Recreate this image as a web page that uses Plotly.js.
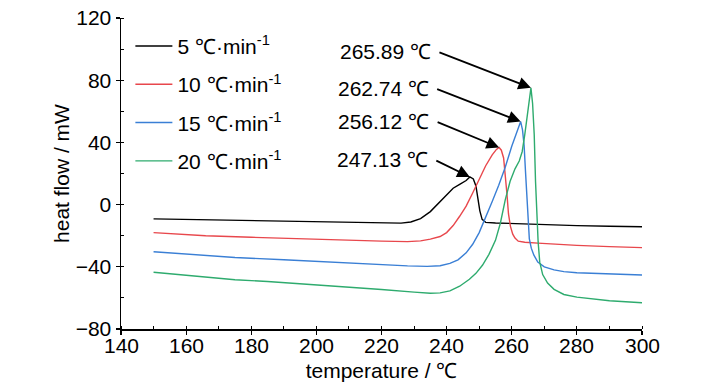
<!DOCTYPE html>
<html>
<head>
<meta charset="utf-8">
<script src="https://cdn.plot.ly/plotly-3.0.1.min.js"></script>
<style>html,body{margin:0;padding:0;background:#fff;}#chart{width:728px;height:390px;}</style>
</head>
<body>
<div id="chart"></div>
<script>
// ---- data ----
const seriesNames = ['5 ℃·min<sup>-1</sup>', '10 ℃·min<sup>-1</sup>', '15 ℃·min<sup>-1</sup>', '20 ℃·min<sup>-1</sup>'];
const seriesColors = ['#000000', '#e8474c', '#3a7fd5', '#2eab6e'];

const xTicks = [140,160,180,200,220,240,260,280,300];
const xTickLabels = ['140','160','180','200','220','240','260','280','300'];
const yTicks = [-80,-40,0,40,80,120];

const x5 = [150,160,170,180,190,200,210,220,226,229,232,235,238,240,242,244,246,247.13,248.2,249,249.6,250.2,250.9,252,255,260,270,280,290,300];
const y5 = [-9.2,-9.6,-10,-10.3,-10.7,-11.1,-11.5,-11.8,-11.9,-11.2,-9,-4.5,2,6.5,10.5,13,15.5,17.8,16.5,12,4,-4,-9.5,-11.4,-11.8,-12.2,-12.9,-13.5,-13.9,-14.2];

const x10 = [150,160,166,180,190,200,210,220,228,232,235,238,240,242,244,246,248,250,252,254,255.3,256.12,256.8,257.5,258,258.5,259,259.6,260.3,261,262,264,268,275,280,290,300];
const y10 = [-18,-19.3,-20,-21,-21.7,-22.3,-22.9,-23.5,-23.8,-23.3,-22.2,-20.5,-18,-13.5,-7.5,-1,7.5,16,25,32,35.5,36.7,35,30,20,7.5,-6,-14,-19,-21.5,-23.5,-24.2,-24.8,-25.7,-26.2,-27,-27.7];

const x15 = [150,160,170,175,190,200,210,220,228,234,238,241,243.5,246,248,250,252,254,256,258,260,261.5,262.74,263.3,263.8,264.2,264.6,265,265.4,266,266.8,268,270,273,276,280,290,300];
const y15 = [-30.3,-31.8,-33.3,-34,-35.5,-36.6,-37.7,-38.8,-39.4,-39.7,-39.3,-37.8,-35.5,-31,-25.5,-18,-8.5,2,12.5,24,37.5,46,53.4,48,38,22,7.5,-10,-22,-28,-32.5,-37,-40,-42,-43.1,-43.8,-44.6,-45.3];

const x20 = [150,160,170,175,185,200,210,220,230,235,238,241,244,247,249,251,253,255,256.5,258,259.5,261,262.3,263.2,264,265,265.89,266.4,266.9,267.3,267.7,268.1,268.6,269.5,271,273,276,280,290,300];
const y20 = [-43.5,-45.5,-47.4,-48.3,-49.5,-51.5,-53,-54.6,-56.3,-57,-56.8,-55.5,-52.5,-48,-44.2,-39,-32,-23,-12,3,15,23,28,34,45,62,75.1,65,45,15,-8,-24,-37,-45,-50.5,-54.5,-57.8,-59.5,-61.8,-63.1];

const xs = [x5, x10, x15, x20];
const ys = [y5, y10, y15, y20];

// peak annotations
const peakX = [265.89, 262.74, 256.12, 247.13];
const peakY = [75.1, 53.4, 36.7, 17.8];
const peakLabels = ['265.89 ℃', '262.74 ℃', '256.12 ℃', '247.13 ℃'];
// arrow tail offsets (px) relative to the peak
const tailDX = [-93, -85, -63, -35];
const tailDY = [-36, -33, -26, -17];

const FONT = '"Liberation Sans", Arial, sans-serif';

const traces = xs.map((xv, i) => ({
  x: xv, y: ys[i], type: 'scatter', mode: 'lines',
  name: seriesNames[i], legendgroup: 'g' + i,
  line: {color: seriesColors[i], width: 1.4}
}));

const annotations = [];
peakX.forEach((px, i) => {
  annotations.push({
    x: px, y: peakY[i], xref: 'x', yref: 'y', text: ' ',
    showarrow: true, ax: tailDX[i], ay: tailDY[i], axref: 'pixel', ayref: 'pixel',
    arrowhead: 2, arrowsize: 1.4, arrowwidth: 1.8, arrowcolor: '#000', standoff: 0,
    font: {size: 1}
  });
  annotations.push({
    x: px, y: peakY[i], xref: 'x', yref: 'y', text: peakLabels[i],
    showarrow: false, xanchor: 'right', yanchor: 'middle',
    xshift: tailDX[i] - 5, yshift: -tailDY[i],
    font: {family: FONT, size: 21, color: '#000'}
  });
});
// x tick labels (placed close to the axis as in the reference)
xTicks.forEach((t, i) => {
  annotations.push({
    x: t, y: 0, xref: 'x', yref: 'paper', text: xTickLabels[i],
    showarrow: false, xanchor: 'center', yanchor: 'middle', yshift: -16,
    font: {family: FONT, size: 21, color: '#000'}
  });
});

const layout = {
  width: 728, height: 390,
  margin: {l: 121, r: 86, t: 18, b: 61},
  paper_bgcolor: '#fff', plot_bgcolor: '#fff',
  font: {family: FONT, size: 21, color: '#000'},
  showlegend: true,
  legend: {
    x: 0.018, y: 0.975, xanchor: 'left', yanchor: 'top',
    bgcolor: 'rgba(0,0,0,0)', borderwidth: 0,
    font: {family: FONT, size: 21, color: '#000'},
    tracegroupgap: 8, itemwidth: 37
  },
  xaxis: {
    range: [140, 300], tickvals: xTicks, showticklabels: false,
    showline: true, linecolor: '#000', linewidth: 1.5, mirror: false,
    ticks: 'outside', ticklen: 4, tickwidth: 1.2, tickcolor: '#000',
    minor: {dtick: 10, ticks: 'inside', ticklen: 3, tickcolor: '#000', tickwidth: 1},
    showgrid: false, zeroline: false, automargin: false,
    title: {text: 'temperature / ℃', font: {family: FONT, size: 21}, standoff: 30}
  },
  yaxis: {
    range: [-80, 120], tickvals: yTicks,
    showline: true, linecolor: '#000', linewidth: 1.5, mirror: false,
    ticks: 'outside', ticklen: 4, tickwidth: 1.2, tickcolor: '#000',
    minor: {dtick: 20, ticks: 'inside', ticklen: 3, tickcolor: '#000', tickwidth: 1},
    showgrid: false, zeroline: false,
    tickfont: {family: FONT, size: 21},
    title: {text: 'heat flow / mW', font: {family: FONT, size: 21}, standoff: 0}
  },
  annotations: annotations
};

Plotly.newPlot('chart', traces, layout, {staticPlot: true, displayModeBar: false});
</script>
</body>
</html>
